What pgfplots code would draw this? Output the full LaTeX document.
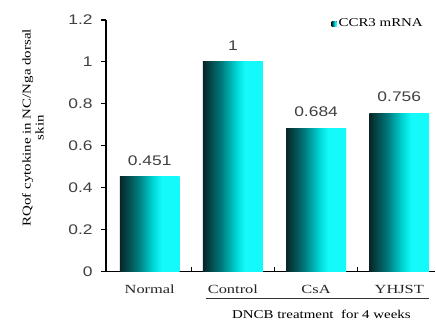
\documentclass[border=0pt]{standalone}
\usepackage{pgfplots}
\pgfplotsset{compat=1.18}
\usepackage{graphicx}
\usepackage{fontspec}
\setmainfont{Liberation Serif}
\newfontfamily\arialfont{Liberation Sans}
% widened lettering used throughout the figure
\newcommand\sx[1]{\scalebox{1.25}[1]{#1}}
\newcommand\sxx[1]{\scalebox{1.32}[1]{#1}}
\definecolor{bardark}{RGB}{8,36,38}
\definecolor{barmid}{RGB}{0,120,122}
\definecolor{barlight}{RGB}{0,215,215}
\definecolor{barcyan}{RGB}{20,250,250}
\definecolor{numgray}{RGB}{64,64,64}
\pgfdeclarehorizontalshading{cyanbar}{100bp}{color(0bp)=(bardark); color(25bp)=(bardark); color(40bp)=(barmid); color(53bp)=(barlight); color(60bp)=(barcyan); color(100bp)=(barcyan)}
\pgfplotsset{
  cbar/.style={ybar, bar width=60bp, bar shift=0pt, draw=none, shading=cyanbar,
    point meta=explicit symbolic,
    nodes near coords={\sx{\pgfplotspointmeta}},
    nodes near coords style={font=\arialfont\fontsize{14}{16}\selectfont, text=numgray,
      anchor=south, inner sep=0pt, yshift=11bp}},
}
\begin{document}
\begin{tikzpicture}
\begin{axis}[
  at={(0,0)}, anchor=south west,
  scale only axis, width=330bp, height=252bp,
  xmin=-0.528, xmax=3.432, ymin=0, ymax=1.2,
  clip=false,
  axis x line*=bottom, axis y line*=left,
  axis line style={line width=1.6bp, black},
  xtick={0,1,2,3},
  xticklabels={\sxx{Normal},\sxx{Control},\sxx{CsA},\sxx{YHJST}},
  major x tick style={draw=none},
  minor xtick={0.5,1.5,2.5},
  minor x tick style={line width=1.6bp, black},
  minor tick length=5bp,
  xtick align=inside,
  ytick={0,0.2,0.4,0.6,0.8,1,1.2},
  yticklabels={\sx{0},\sx{0.2},\sx{0.4},\sx{0.6},\sx{0.8},\sx{1},\sx{1.2}},
  ytick align=outside,
  major tick length=5bp,
  y tick style={line width=1.2bp, black},
  xticklabel style={font=\fontsize{12.5}{14}\selectfont, text=black!85, anchor=base, inner sep=0pt, yshift=-22bp},
  yticklabel style={font=\arialfont\fontsize{14}{16}\selectfont, text=numgray, anchor=east, inner sep=0pt, xshift=-8bp},
  legend style={draw=none, fill=none, at={(0.685,0.985)}, anchor=west,
    font=\fontsize{12}{14}\selectfont, inner sep=0pt,
    /tikz/every even column/.append style={column sep=2bp}},
  legend image code/.code={\fill[shading=cyanbar] (0bp,-2.5bp) rectangle (5bp,2.5bp);},
]
\addplot[cbar] coordinates {(0,0.451) [0.451]};
\addlegendentry{\sx{CCR3 mRNA}}
\addplot[cbar, forget plot] coordinates {(1,1) [1]};
\addplot[cbar, forget plot] coordinates {(2,0.684) [0.684]};
\addplot[cbar, forget plot] coordinates {(3,0.756) [0.756]};
\end{axis}
\node[rotate=90, align=center, font=\fontsize{12}{13}\selectfont] at (-73bp,144bp)
  {\sx{RQof cytokine in NC/Nga dorsal}\\\sx{skin}};
\draw[line width=0.8bp, black!80] (100bp,-27bp) -- (324bp,-27bp);
\node[anchor=base, inner sep=0pt, font=\fontsize{12}{14}\selectfont] at (216bp,-47bp)
  {\sx{DNCB treatment\ \ for 4 weeks}};
\path[use as bounding box] (-106bp,-50bp) rectangle (330bp,272bp);
\end{tikzpicture}
\end{document}
